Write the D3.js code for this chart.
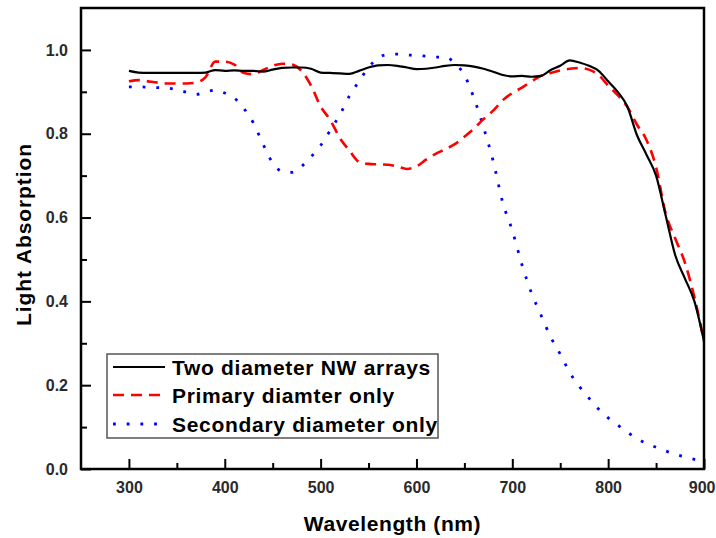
<!DOCTYPE html>
<html><head><meta charset="utf-8">
<script src="https://cdn.jsdelivr.net/npm/d3@7"></script>
<style>body{margin:0;background:#fff}svg{display:block}</style>
</head><body><svg id="c" width="716" height="538"></svg>
<script>
const wavelengths = d3.range(300, 901, 10);
const twoDiameter = [0.950,0.946,0.945,0.945,0.945,0.945,0.945,0.945,0.946,0.952,
0.950,0.951,0.950,0.950,0.948,0.953,0.957,0.958,0.958,0.955,
0.946,0.945,0.944,0.943,0.950,0.958,0.963,0.964,0.962,0.958,
0.954,0.955,0.958,0.962,0.964,0.963,0.960,0.955,0.948,0.940,
0.937,0.938,0.936,0.938,0.952,0.962,0.975,0.970,0.962,0.950,
0.925,0.900,0.865,0.797,0.750,0.700,0.605,0.510,0.455,0.400,0.305];
const primaryOnly = [0.925,0.928,0.925,0.922,0.920,0.920,0.920,0.922,0.935,0.972,
0.972,0.965,0.945,0.942,0.952,0.962,0.967,0.965,0.950,0.915,
0.865,0.833,0.790,0.760,0.733,0.728,0.727,0.726,0.722,0.716,
0.722,0.738,0.752,0.763,0.775,0.793,0.812,0.835,0.855,0.880,
0.897,0.910,0.925,0.938,0.945,0.951,0.955,0.957,0.953,0.940,
0.915,0.892,0.864,0.822,0.785,0.720,0.610,0.550,0.493,0.410,0.305];
const secondaryOnly = [0.912,0.912,0.911,0.910,0.909,0.905,0.899,0.894,0.900,0.904,
0.897,0.885,0.860,0.825,0.775,0.730,0.710,0.708,0.722,0.745,
0.772,0.808,0.845,0.890,0.925,0.958,0.981,0.989,0.990,0.988,
0.987,0.985,0.983,0.983,0.968,0.940,0.885,0.815,0.735,0.636,
0.569,0.488,0.420,0.367,0.315,0.274,0.230,0.197,0.169,0.143,
0.122,0.105,0.088,0.073,0.061,0.052,0.043,0.035,0.029,0.023,0.020];
const seriesNames = ["Two diameter NW arrays","Primary diamter only","Secondary diameter only"];
const xMajorTicks = [300,400,500,600,700,800,900];
const xMinorTicks = [350,450,550,650,750,850];
const yMajorTicks = [0.0,0.2,0.4,0.6,0.8,1.0];
const yMinorTicks = [0.1,0.3,0.5,0.7,0.9];

const svg = d3.select("#c");
const L=81,R=704,T=8,B=469;
const x = d3.scaleLinear().domain([250,900]).range([L,R]);
const y = d3.scaleLinear().domain([0,1.1]).range([B,T]);

svg.append("defs").append("clipPath").attr("id","clip").append("rect")
  .attr("x",L).attr("y",T).attr("width",R-L).attr("height",B-T);

const series = [
  {vals:twoDiameter,color:"#000",width:2.2,dash:null},
  {vals:primaryOnly,color:"#ff0000",width:2.6,dash:"11,7"},
  {vals:secondaryOnly,color:"#0000ff",width:2.8,dash:"2.8,10.9"}
];
const line = d3.line().x(d=>x(d[0])).y(d=>y(d[1])).curve(d3.curveMonotoneX);
const g = svg.append("g").attr("clip-path","url(#clip)");
series.slice().reverse().forEach(s=>{
  g.append("path").datum(wavelengths.map((w,i)=>[w,s.vals[i]]))
    .attr("d",line).attr("fill","none").attr("stroke",s.color)
    .attr("stroke-width",s.width).attr("stroke-dasharray",s.dash);
});

const font = "'Liberation Sans', Arial, sans-serif";
function styleAxis(sel){
  sel.select(".domain").remove();
  sel.selectAll(".tick line").attr("stroke","#000").attr("stroke-width",2);
  sel.selectAll(".tick text").attr("font-family",font).attr("font-weight","bold")
    .attr("font-size",16).attr("fill","#2a2a2a");
}
const xAx = svg.append("g").attr("transform",`translate(0,${B})`)
  .call(d3.axisBottom(x).tickValues(xMajorTicks).tickSize(-10).tickPadding(13).tickFormat(d3.format("d")))
  .call(styleAxis);
// keep the last label inside the page edge
xAx.selectAll(".tick text").filter(d=>d===900).attr("text-anchor","end").attr("dx",11);
svg.append("g").attr("transform",`translate(0,${B})`)
  .call(d3.axisBottom(x).tickValues(xMinorTicks).tickSize(-6).tickFormat(""))
  .call(styleAxis);
svg.append("g").attr("transform",`translate(${L},0)`)
  .call(d3.axisLeft(y).tickValues(yMajorTicks).tickSize(-10).tickPadding(13).tickFormat(d3.format(".1f")))
  .call(styleAxis);
svg.append("g").attr("transform",`translate(${L},0)`)
  .call(d3.axisLeft(y).tickValues(yMinorTicks).tickSize(-6).tickFormat(""))
  .call(styleAxis);

svg.append("rect").attr("x",L).attr("y",T).attr("width",R-L).attr("height",B-T)
  .attr("fill","none").attr("stroke","#000").attr("stroke-width",2.5);

svg.append("text").attr("x",(L+R)/2).attr("y",531).attr("text-anchor","middle")
  .attr("font-family",font).attr("font-weight","bold").attr("font-size",21)
  .attr("letter-spacing",0.6).text("Wavelength (nm)");
svg.append("text").attr("transform",`translate(31,${(T+B)/2-4}) rotate(-90)`).attr("text-anchor","middle")
  .attr("font-family",font).attr("font-weight","bold").attr("font-size",21)
  .attr("letter-spacing",0.9).text("Light Absorption");

// legend
const lg = svg.append("g");
lg.append("rect").attr("x",107).attr("y",354).attr("width",331).attr("height",84)
  .attr("fill","#fff").attr("stroke","#555").attr("stroke-width",1.5);
const rowsY=[367,395,424];
series.forEach((s,i)=>{
  lg.append("line").attr("x1",113).attr("x2",165).attr("y1",rowsY[i]).attr("y2",rowsY[i])
    .attr("stroke",s.color).attr("stroke-width",s.width).attr("stroke-dasharray",s.dash);
  lg.append("text").attr("x",172).attr("y",rowsY[i]+8).attr("font-family",font)
    .attr("font-weight","bold").attr("font-size",21).attr("letter-spacing",0.7)
    .attr("fill","#000").text(seriesNames[i]);
});
</script></body></html>
